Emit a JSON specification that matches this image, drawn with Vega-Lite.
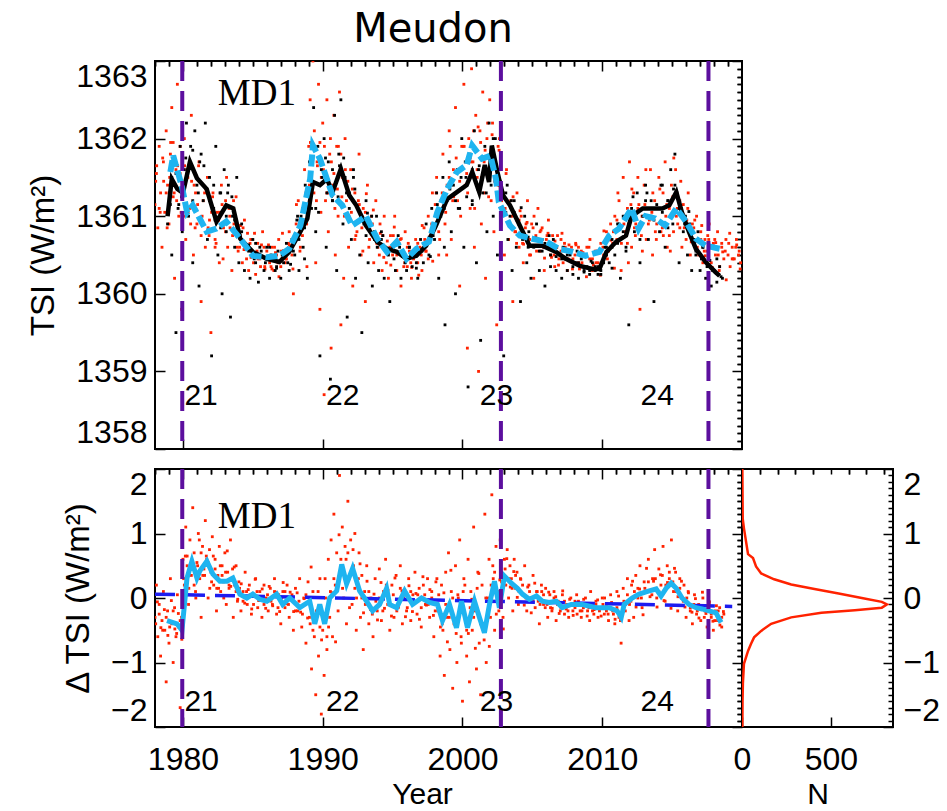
{
"$schema":"https://vega.github.io/schema/vega-lite/v6.json",
"autosize":{"type":"none"},
"padding":{"left":155,"top":61,"right":792,"bottom":750},
"background":"white",
"config":{
 "view":{"stroke":"black","strokeWidth":2},
 "axis":{"labelFont":"Liberation Sans","labelFontSize":32,"labelColor":"black","titleFont":"Liberation Sans","titleFontSize":33,"titleFontWeight":"normal","titleColor":"black","tickColor":"black","tickWidth":1.5,"domain":false,"grid":false},
 "text":{"font":"Liberation Sans","fontSize":30,"color":"black"}
},
"datasets":{
"tsiRed":[{"t":1978.0,"v":1361.15},{"t":1978.1,"v":1361.55},{"t":1978.2,"v":1360.85},{"t":1978.3,"v":1361.9},{"t":1978.4,"v":1361.3},{"t":1978.5,"v":1360.6},{"t":1978.6,"v":1361.7},{"t":1978.7,"v":1361.05},{"t":1978.8,"v":1362.1},{"t":1978.9,"v":1361.4},{"t":1979.0,"v":1360.9},{"t":1979.1,"v":1361.8},{"t":1979.2,"v":1362.4},{"t":1979.3,"v":1361.25},{"t":1979.4,"v":1360.2},{"t":1979.5,"v":1361.6},{"t":1979.6,"v":1362.7},{"t":1979.7,"v":1361.0},{"t":1979.8,"v":1361.9},{"t":1979.9,"v":1359.8},{"t":1980.0,"v":1361.3},{"t":1980.1,"v":1362.0},{"t":1980.2,"v":1360.7},{"t":1980.35,"v":1361.5},{"t":1980.5,"v":1361.1},{"t":1980.6,"v":1362.3},{"t":1980.75,"v":1360.5},{"t":1980.9,"v":1361.3},{"t":1981.0,"v":1360.9},{"t":1981.15,"v":1361.7},{"t":1981.3,"v":1359.9},{"t":1981.45,"v":1361.2},{"t":1981.6,"v":1360.6},{"t":1981.75,"v":1361.5},{"t":1981.9,"v":1360.95},{"t":1982.0,"v":1359.5},{"t":1982.15,"v":1361.3},{"t":1982.3,"v":1360.7},{"t":1982.45,"v":1361.05},{"t":1982.6,"v":1360.4},{"t":1982.75,"v":1361.4},{"t":1982.9,"v":1360.85},{"t":1983.05,"v":1361.2},{"t":1983.2,"v":1360.6},{"t":1983.35,"v":1361.0},{"t":1983.5,"v":1360.3},{"t":1983.65,"v":1360.9},{"t":1983.8,"v":1361.25},{"t":1983.95,"v":1360.55},{"t":1984.1,"v":1360.75},{"t":1984.25,"v":1360.4},{"t":1984.4,"v":1360.95},{"t":1984.55,"v":1360.6},{"t":1984.7,"v":1360.3},{"t":1984.85,"v":1360.7},{"t":1985.0,"v":1360.5},{"t":1985.2,"v":1360.25},{"t":1985.35,"v":1360.65},{"t":1985.5,"v":1360.45},{"t":1985.7,"v":1360.8},{"t":1985.85,"v":1360.35},{"t":1986.0,"v":1360.55},{"t":1986.2,"v":1360.4},{"t":1986.35,"v":1360.6},{"t":1986.5,"v":1360.3},{"t":1986.7,"v":1360.5},{"t":1986.85,"v":1360.7},{"t":1987.0,"v":1360.35},{"t":1987.2,"v":1360.55},{"t":1987.4,"v":1360.45},{"t":1987.6,"v":1360.8},{"t":1987.75,"v":1360.6},{"t":1987.9,"v":1360.0},{"t":1988.1,"v":1360.9},{"t":1988.25,"v":1361.2},{"t":1988.4,"v":1360.6},{"t":1988.55,"v":1361.1},{"t":1988.7,"v":1361.6},{"t":1988.85,"v":1360.9},{"t":1989.0,"v":1361.9},{"t":1989.1,"v":1362.5},{"t":1989.2,"v":1361.3},{"t":1989.3,"v":1363.0},{"t":1989.4,"v":1362.1},{"t":1989.5,"v":1360.4},{"t":1989.6,"v":1361.7},{"t":1989.7,"v":1362.7},{"t":1989.8,"v":1359.8},{"t":1989.9,"v":1361.5},{"t":1990.0,"v":1362.2},{"t":1990.1,"v":1358.7},{"t":1990.2,"v":1361.2},{"t":1990.3,"v":1362.5},{"t":1990.4,"v":1360.8},{"t":1990.5,"v":1361.8},{"t":1990.6,"v":1359.3},{"t":1990.7,"v":1361.4},{"t":1990.8,"v":1362.3},{"t":1990.9,"v":1360.5},{"t":1991.0,"v":1361.9},{"t":1991.1,"v":1361.0},{"t":1991.2,"v":1362.6},{"t":1991.3,"v":1359.6},{"t":1991.4,"v":1361.5},{"t":1991.5,"v":1360.2},{"t":1991.6,"v":1362.0},{"t":1991.7,"v":1361.2},{"t":1991.85,"v":1360.6},{"t":1992.0,"v":1361.6},{"t":1992.15,"v":1360.1},{"t":1992.3,"v":1361.3},{"t":1992.45,"v":1360.8},{"t":1992.6,"v":1361.8},{"t":1992.75,"v":1360.5},{"t":1992.9,"v":1361.1},{"t":1993.05,"v":1359.9},{"t":1993.2,"v":1361.4},{"t":1993.35,"v":1360.7},{"t":1993.5,"v":1361.0},{"t":1993.65,"v":1360.4},{"t":1993.8,"v":1361.2},{"t":1993.95,"v":1360.6},{"t":1994.1,"v":1360.9},{"t":1994.25,"v":1360.3},{"t":1994.4,"v":1361.0},{"t":1994.55,"v":1360.55},{"t":1994.7,"v":1360.2},{"t":1994.85,"v":1360.75},{"t":1995.0,"v":1360.5},{"t":1995.15,"v":1361.0},{"t":1995.3,"v":1360.3},{"t":1995.45,"v":1360.65},{"t":1995.6,"v":1360.1},{"t":1995.75,"v":1360.5},{"t":1995.9,"v":1360.8},{"t":1996.05,"v":1360.35},{"t":1996.2,"v":1360.55},{"t":1996.35,"v":1360.2},{"t":1996.5,"v":1360.45},{"t":1996.65,"v":1360.7},{"t":1996.8,"v":1360.4},{"t":1996.95,"v":1360.6},{"t":1997.1,"v":1360.3},{"t":1997.25,"v":1360.85},{"t":1997.4,"v":1360.55},{"t":1997.55,"v":1361.0},{"t":1997.7,"v":1360.7},{"t":1997.85,"v":1361.3},{"t":1998.0,"v":1360.9},{"t":1998.15,"v":1361.5},{"t":1998.3,"v":1360.5},{"t":1998.45,"v":1361.2},{"t":1998.6,"v":1361.8},{"t":1998.75,"v":1360.9},{"t":1998.9,"v":1361.4},{"t":1999.05,"v":1362.1},{"t":1999.2,"v":1360.7},{"t":1999.35,"v":1361.6},{"t":1999.5,"v":1362.4},{"t":1999.65,"v":1361.2},{"t":1999.8,"v":1360.1},{"t":1999.95,"v":1361.9},{"t":2000.1,"v":1362.7},{"t":2000.2,"v":1361.4},{"t":2000.35,"v":1359.3},{"t":2000.45,"v":1362.0},{"t":2000.55,"v":1361.1},{"t":2000.65,"v":1362.9},{"t":2000.75,"v":1361.7},{"t":2000.85,"v":1360.6},{"t":2000.95,"v":1362.3},{"t":2001.05,"v":1361.5},{"t":2001.15,"v":1359.0},{"t":2001.25,"v":1362.1},{"t":2001.35,"v":1360.9},{"t":2001.45,"v":1362.6},{"t":2001.55,"v":1361.3},{"t":2001.65,"v":1360.2},{"t":2001.75,"v":1362.0},{"t":2001.85,"v":1361.6},{"t":2001.95,"v":1362.5},{"t":2002.05,"v":1361.2},{"t":2002.15,"v":1362.2},{"t":2002.25,"v":1360.8},{"t":2002.35,"v":1361.7},{"t":2002.45,"v":1359.6},{"t":2002.55,"v":1361.4},{"t":2002.65,"v":1362.0},{"t":2002.75,"v":1360.9},{"t":2002.9,"v":1361.3},{"t":2003.0,"v":1360.5},{"t":2003.15,"v":1361.6},{"t":2003.3,"v":1360.9},{"t":2003.45,"v":1361.2},{"t":2003.6,"v":1359.9},{"t":2003.75,"v":1360.8},{"t":2003.9,"v":1361.3},{"t":2004.05,"v":1360.6},{"t":2004.2,"v":1361.0},{"t":2004.35,"v":1360.4},{"t":2004.5,"v":1360.85},{"t":2004.65,"v":1361.2},{"t":2004.8,"v":1360.5},{"t":2004.95,"v":1360.9},{"t":2005.1,"v":1360.2},{"t":2005.25,"v":1360.75},{"t":2005.4,"v":1361.1},{"t":2005.55,"v":1360.55},{"t":2005.7,"v":1360.85},{"t":2005.85,"v":1360.3},{"t":2006.0,"v":1360.7},{"t":2006.15,"v":1360.95},{"t":2006.3,"v":1360.5},{"t":2006.45,"v":1360.75},{"t":2006.6,"v":1360.35},{"t":2006.75,"v":1360.6},{"t":2006.9,"v":1360.45},{"t":2007.05,"v":1360.7},{"t":2007.2,"v":1360.4},{"t":2007.35,"v":1360.6},{"t":2007.5,"v":1360.3},{"t":2007.7,"v":1360.55},{"t":2007.9,"v":1360.45},{"t":2008.1,"v":1360.65},{"t":2008.3,"v":1360.4},{"t":2008.5,"v":1360.55},{"t":2008.7,"v":1360.35},{"t":2008.9,"v":1360.6},{"t":2009.1,"v":1360.45},{"t":2009.3,"v":1360.3},{"t":2009.5,"v":1360.55},{"t":2009.7,"v":1360.4},{"t":2009.9,"v":1360.65},{"t":2010.1,"v":1360.5},{"t":2010.3,"v":1360.8},{"t":2010.45,"v":1360.55},{"t":2010.6,"v":1360.9},{"t":2010.75,"v":1360.65},{"t":2010.9,"v":1361.0},{"t":2011.05,"v":1360.7},{"t":2011.2,"v":1361.2},{"t":2011.35,"v":1360.3},{"t":2011.5,"v":1361.5},{"t":2011.65,"v":1360.8},{"t":2011.8,"v":1361.1},{"t":2011.95,"v":1361.7},{"t":2012.1,"v":1360.6},{"t":2012.25,"v":1361.3},{"t":2012.4,"v":1360.9},{"t":2012.55,"v":1361.5},{"t":2012.7,"v":1359.8},{"t":2012.85,"v":1361.0},{"t":2013.0,"v":1361.4},{"t":2013.15,"v":1360.7},{"t":2013.3,"v":1361.1},{"t":2013.45,"v":1361.6},{"t":2013.6,"v":1360.5},{"t":2013.75,"v":1361.2},{"t":2013.9,"v":1360.9},{"t":2014.05,"v":1361.5},{"t":2014.2,"v":1360.8},{"t":2014.35,"v":1361.3},{"t":2014.5,"v":1361.7},{"t":2014.65,"v":1360.6},{"t":2014.8,"v":1361.1},{"t":2014.95,"v":1361.4},{"t":2015.1,"v":1360.8},{"t":2015.25,"v":1361.6},{"t":2015.4,"v":1360.9},{"t":2015.55,"v":1361.2},{"t":2015.7,"v":1360.6},{"t":2015.85,"v":1361.0},{"t":2016.0,"v":1360.7},{"t":2016.15,"v":1361.3},{"t":2016.3,"v":1360.5},{"t":2016.45,"v":1360.9},{"t":2016.6,"v":1360.65},{"t":2016.75,"v":1361.0},{"t":2016.9,"v":1360.5},{"t":2017.05,"v":1360.8},{"t":2017.2,"v":1360.4},{"t":2017.35,"v":1360.7},{"t":2017.5,"v":1360.55},{"t":2017.65,"v":1360.9},{"t":2017.8,"v":1360.4},{"t":2017.95,"v":1360.65},{"t":2018.1,"v":1360.5},{"t":2018.25,"v":1360.8},{"t":2018.4,"v":1360.35},{"t":2018.55,"v":1360.6},{"t":2018.7,"v":1360.45},{"t":2018.85,"v":1360.7},{"t":2019.0,"v":1360.5},{"t":2019.15,"v":1360.35},{"t":2019.3,"v":1360.6},{"t":2019.45,"v":1360.45},{"t":2019.6,"v":1360.7},{"t":2019.75,"v":1360.5},{"t":2019.9,"v":1360.4},
{"t":1978.05,"v":1361.45},{"t":1978.3,"v":1361.1},{"t":1978.55,"v":1361.75},{"t":1978.8,"v":1361.3},{"t":1979.05,"v":1361.5},{"t":1979.3,"v":1361.95},{"t":1979.55,"v":1361.2},{"t":1979.8,"v":1361.55},{"t":1980.05,"v":1361.0},{"t":1980.3,"v":1361.6},{"t":1980.55,"v":1360.9},{"t":1980.8,"v":1361.4},{"t":1981.05,"v":1361.15},{"t":1981.3,"v":1360.75},{"t":1981.55,"v":1361.3},{"t":1981.8,"v":1360.85},{"t":1982.05,"v":1361.05},{"t":1982.3,"v":1360.6},{"t":1982.55,"v":1360.95},{"t":1982.8,"v":1361.15},{"t":1983.05,"v":1360.8},{"t":1983.3,"v":1361.1},{"t":1983.55,"v":1360.75},{"t":1983.8,"v":1360.95},{"t":1984.05,"v":1360.6},{"t":1984.3,"v":1360.85},{"t":1984.55,"v":1360.45},{"t":1984.8,"v":1360.65},{"t":1985.05,"v":1360.4},{"t":1985.3,"v":1360.55},{"t":1985.55,"v":1360.35},{"t":1985.8,"v":1360.6},{"t":1986.05,"v":1360.45},{"t":1986.3,"v":1360.35},{"t":1986.55,"v":1360.6},{"t":1986.8,"v":1360.4},{"t":1987.05,"v":1360.55},{"t":1987.3,"v":1360.4},{"t":1987.55,"v":1360.65},{"t":1987.8,"v":1360.5},{"t":1988.05,"v":1360.7},{"t":1988.3,"v":1360.95},{"t":1988.55,"v":1360.75},{"t":1988.8,"v":1361.3},{"t":1989.05,"v":1361.4},{"t":1989.3,"v":1361.75},{"t":1989.55,"v":1361.2},{"t":1989.8,"v":1361.95},{"t":1990.05,"v":1361.6},{"t":1990.3,"v":1361.3},{"t":1990.55,"v":1362.0},{"t":1990.8,"v":1361.55},{"t":1991.05,"v":1361.35},{"t":1991.3,"v":1361.8},{"t":1991.55,"v":1361.0},{"t":1991.8,"v":1361.45},{"t":1992.05,"v":1361.05},{"t":1992.3,"v":1360.7},{"t":1992.55,"v":1361.2},{"t":1992.8,"v":1360.85},{"t":1993.05,"v":1361.05},{"t":1993.3,"v":1360.6},{"t":1993.55,"v":1360.9},{"t":1993.8,"v":1360.75},{"t":1994.05,"v":1360.5},{"t":1994.3,"v":1360.75},{"t":1994.55,"v":1360.4},{"t":1994.8,"v":1360.6},{"t":1995.05,"v":1360.75},{"t":1995.3,"v":1360.5},{"t":1995.55,"v":1360.7},{"t":1995.8,"v":1360.35},{"t":1996.05,"v":1360.6},{"t":1996.3,"v":1360.4},{"t":1996.55,"v":1360.55},{"t":1996.8,"v":1360.65},{"t":1997.05,"v":1360.5},{"t":1997.3,"v":1360.7},{"t":1997.55,"v":1360.45},{"t":1997.8,"v":1360.9},{"t":1998.05,"v":1361.15},{"t":1998.3,"v":1360.8},{"t":1998.55,"v":1361.3},{"t":1998.8,"v":1361.05},{"t":1999.05,"v":1361.5},{"t":1999.3,"v":1361.2},{"t":1999.55,"v":1361.75},{"t":1999.8,"v":1361.45},{"t":2000.05,"v":1361.9},{"t":2000.3,"v":1361.55},{"t":2000.55,"v":1361.75},{"t":2000.8,"v":1362.1},{"t":2001.05,"v":1361.6},{"t":2001.3,"v":1361.95},{"t":2001.55,"v":1361.7},{"t":2001.8,"v":1362.2},{"t":2002.05,"v":1361.85},{"t":2002.3,"v":1361.45},{"t":2002.55,"v":1361.9},{"t":2002.8,"v":1361.2},{"t":2003.05,"v":1361.1},{"t":2003.3,"v":1360.7},{"t":2003.55,"v":1361.0},{"t":2003.8,"v":1360.8},{"t":2004.05,"v":1360.95},{"t":2004.3,"v":1360.65},{"t":2004.55,"v":1360.9},{"t":2004.8,"v":1360.7},{"t":2005.05,"v":1360.85},{"t":2005.3,"v":1360.55},{"t":2005.55,"v":1360.8},{"t":2005.8,"v":1360.6},{"t":2006.05,"v":1360.75},{"t":2006.3,"v":1360.6},{"t":2006.55,"v":1360.5},{"t":2006.8,"v":1360.75},{"t":2007.05,"v":1360.55},{"t":2007.3,"v":1360.65},{"t":2007.55,"v":1360.45},{"t":2007.8,"v":1360.6},{"t":2008.05,"v":1360.5},{"t":2008.3,"v":1360.6},{"t":2008.55,"v":1360.4},{"t":2008.8,"v":1360.5},{"t":2009.05,"v":1360.6},{"t":2009.3,"v":1360.45},{"t":2009.55,"v":1360.4},{"t":2009.8,"v":1360.55},{"t":2010.05,"v":1360.6},{"t":2010.3,"v":1360.5},{"t":2010.55,"v":1360.7},{"t":2010.8,"v":1360.8},{"t":2011.05,"v":1360.95},{"t":2011.3,"v":1360.7},{"t":2011.55,"v":1360.9},{"t":2011.8,"v":1360.65},{"t":2012.05,"v":1361.15},{"t":2012.3,"v":1360.85},{"t":2012.55,"v":1361.1},{"t":2012.8,"v":1360.75},{"t":2013.05,"v":1361.15},{"t":2013.3,"v":1360.9},{"t":2013.55,"v":1361.05},{"t":2013.8,"v":1360.8},{"t":2014.05,"v":1361.1},{"t":2014.3,"v":1360.85},{"t":2014.55,"v":1361.0},{"t":2014.8,"v":1360.75},{"t":2015.05,"v":1361.25},{"t":2015.3,"v":1361.0},{"t":2015.55,"v":1360.85},{"t":2015.8,"v":1361.15},{"t":2016.05,"v":1360.95},{"t":2016.3,"v":1360.75},{"t":2016.55,"v":1360.85},{"t":2016.8,"v":1360.6},{"t":2017.05,"v":1360.7},{"t":2017.3,"v":1360.55},{"t":2017.55,"v":1360.75},{"t":2017.8,"v":1360.6},{"t":2018.05,"v":1360.7},{"t":2018.3,"v":1360.5},{"t":2018.55,"v":1360.65},{"t":2018.8,"v":1360.55},{"t":2019.05,"v":1360.65},{"t":2019.3,"v":1360.45},{"t":2019.55,"v":1360.6},{"t":2019.8,"v":1360.55},
{"t":1978.12,"v":1361.65},{"t":1978.37,"v":1361.05},{"t":1978.62,"v":1361.45},{"t":1978.87,"v":1360.85},{"t":1979.12,"v":1361.95},{"t":1979.37,"v":1361.3},{"t":1979.62,"v":1361.65},{"t":1979.87,"v":1361.05},{"t":1980.12,"v":1361.65},{"t":1980.37,"v":1361.05},{"t":1980.62,"v":1361.45},{"t":1980.87,"v":1360.85},{"t":1981.12,"v":1361.65},{"t":1981.37,"v":1361.0},{"t":1981.62,"v":1361.35},{"t":1981.87,"v":1360.75},{"t":1982.12,"v":1361.25},{"t":1982.37,"v":1360.65},{"t":1982.62,"v":1361.05},{"t":1982.87,"v":1360.45},{"t":1983.12,"v":1361.5},{"t":1983.37,"v":1360.85},{"t":1983.62,"v":1361.2},{"t":1983.87,"v":1360.6},{"t":1984.12,"v":1360.88},{"t":1984.37,"v":1360.57},{"t":1984.62,"v":1360.78},{"t":1984.87,"v":1360.47},{"t":1985.12,"v":1360.78},{"t":1985.37,"v":1360.45},{"t":1985.62,"v":1360.63},{"t":1985.87,"v":1360.32},{"t":1986.12,"v":1360.63},{"t":1986.37,"v":1360.32},{"t":1986.62,"v":1360.53},{"t":1986.87,"v":1360.22},{"t":1987.12,"v":1360.78},{"t":1987.37,"v":1360.45},{"t":1987.62,"v":1360.63},{"t":1987.87,"v":1360.32},{"t":1988.12,"v":1361.15},{"t":1988.37,"v":1360.55},{"t":1988.62,"v":1360.95},{"t":1988.87,"v":1360.35},{"t":1989.12,"v":1361.95},{"t":1989.37,"v":1361.3},{"t":1989.62,"v":1361.65},{"t":1989.87,"v":1361.05},{"t":1990.12,"v":1361.9},{"t":1990.37,"v":1361.3},{"t":1990.62,"v":1361.7},{"t":1990.87,"v":1361.1},{"t":1991.12,"v":1361.9},{"t":1991.37,"v":1361.25},{"t":1991.62,"v":1361.6},{"t":1991.87,"v":1361.0},{"t":1992.12,"v":1361.35},{"t":1992.37,"v":1360.75},{"t":1992.62,"v":1361.15},{"t":1992.87,"v":1360.55},{"t":1993.12,"v":1361.29},{"t":1993.37,"v":1360.83},{"t":1993.62,"v":1361.08},{"t":1993.87,"v":1360.65},{"t":1994.12,"v":1360.78},{"t":1994.37,"v":1360.47},{"t":1994.62,"v":1360.68},{"t":1994.87,"v":1360.37},{"t":1995.12,"v":1360.86},{"t":1995.37,"v":1360.53},{"t":1995.62,"v":1360.71},{"t":1995.87,"v":1360.4},{"t":1996.12,"v":1360.65},{"t":1996.37,"v":1360.34},{"t":1996.62,"v":1360.55},{"t":1996.87,"v":1360.24},{"t":1997.12,"v":1360.88},{"t":1997.37,"v":1360.55},{"t":1997.62,"v":1360.73},{"t":1997.87,"v":1360.42},{"t":1998.12,"v":1361.3},{"t":1998.37,"v":1360.7},{"t":1998.62,"v":1361.1},{"t":1998.87,"v":1360.5},{"t":1999.12,"v":1361.9},{"t":1999.37,"v":1361.25},{"t":1999.62,"v":1361.6},{"t":1999.87,"v":1361.0},{"t":2000.12,"v":1361.9},{"t":2000.37,"v":1361.3},{"t":2000.62,"v":1361.7},{"t":2000.87,"v":1361.1},{"t":2001.12,"v":1362.15},{"t":2001.37,"v":1361.5},{"t":2001.62,"v":1361.85},{"t":2001.87,"v":1361.25},{"t":2002.12,"v":1362.05},{"t":2002.37,"v":1361.45},{"t":2002.62,"v":1361.85},{"t":2002.87,"v":1361.25},{"t":2003.12,"v":1361.55},{"t":2003.37,"v":1360.9},{"t":2003.62,"v":1361.25},{"t":2003.87,"v":1360.65},{"t":2004.12,"v":1361.07},{"t":2004.37,"v":1360.64},{"t":2004.62,"v":1360.92},{"t":2004.87,"v":1360.5},{"t":2005.12,"v":1361.0},{"t":2005.37,"v":1360.61},{"t":2005.62,"v":1360.82},{"t":2005.87,"v":1360.46},{"t":2006.12,"v":1360.78},{"t":2006.37,"v":1360.47},{"t":2006.62,"v":1360.68},{"t":2006.87,"v":1360.37},{"t":2007.12,"v":1360.78},{"t":2007.37,"v":1360.45},{"t":2007.62,"v":1360.63},{"t":2007.87,"v":1360.32},{"t":2008.12,"v":1360.63},{"t":2008.37,"v":1360.32},{"t":2008.62,"v":1360.53},{"t":2008.87,"v":1360.22},{"t":2009.12,"v":1360.7},{"t":2009.37,"v":1360.37},{"t":2009.62,"v":1360.55},{"t":2009.87,"v":1360.24},{"t":2010.12,"v":1360.81},{"t":2010.37,"v":1360.45},{"t":2010.62,"v":1360.69},{"t":2010.87,"v":1360.33},{"t":2011.12,"v":1361.3},{"t":2011.37,"v":1360.65},{"t":2011.62,"v":1361.0},{"t":2011.87,"v":1360.4},{"t":2012.12,"v":1361.35},{"t":2012.37,"v":1360.75},{"t":2012.62,"v":1361.15},{"t":2012.87,"v":1360.55},{"t":2013.12,"v":1361.6},{"t":2013.37,"v":1360.95},{"t":2013.62,"v":1361.3},{"t":2013.87,"v":1360.7},{"t":2014.12,"v":1361.35},{"t":2014.37,"v":1360.75},{"t":2014.62,"v":1361.15},{"t":2014.87,"v":1360.55},{"t":2015.12,"v":1361.75},{"t":2015.37,"v":1361.1},{"t":2015.62,"v":1361.45},{"t":2015.87,"v":1360.85},{"t":2016.12,"v":1361.1},{"t":2016.37,"v":1360.67},{"t":2016.62,"v":1360.95},{"t":2016.87,"v":1360.53},{"t":2017.12,"v":1360.88},{"t":2017.37,"v":1360.49},{"t":2017.62,"v":1360.7},{"t":2017.87,"v":1360.34},{"t":2018.12,"v":1360.66},{"t":2018.37,"v":1360.3},{"t":2018.62,"v":1360.54},{"t":2018.87,"v":1360.18},{"t":2019.12,"v":1360.78},{"t":2019.37,"v":1360.45},{"t":2019.62,"v":1360.63},{"t":2019.87,"v":1360.32}],
"tsiBlack":[{"t":1978.9,"v":1360.9},{"t":1979.05,"v":1361.3},{"t":1979.2,"v":1360.5},{"t":1979.35,"v":1361.7},{"t":1979.5,"v":1359.5},{"t":1979.65,"v":1361.1},{"t":1979.8,"v":1361.9},{"t":1979.95,"v":1360.8},{"t":1980.1,"v":1361.6},{"t":1980.25,"v":1362.2},{"t":1980.4,"v":1361.0},{"t":1980.55,"v":1361.9},{"t":1980.7,"v":1360.4},{"t":1980.85,"v":1362.1},{"t":1981.0,"v":1361.4},{"t":1981.15,"v":1360.1},{"t":1981.3,"v":1361.8},{"t":1981.45,"v":1361.2},{"t":1981.6,"v":1362.2},{"t":1981.75,"v":1360.7},{"t":1981.9,"v":1361.5},{"t":1982.05,"v":1359.2},{"t":1982.2,"v":1361.1},{"t":1982.35,"v":1361.9},{"t":1982.5,"v":1360.5},{"t":1982.65,"v":1361.3},{"t":1982.8,"v":1360.0},{"t":1982.95,"v":1361.6},{"t":1983.1,"v":1360.8},{"t":1983.25,"v":1361.4},{"t":1983.4,"v":1359.7},{"t":1983.55,"v":1361.0},{"t":1983.7,"v":1360.6},{"t":1983.85,"v":1361.5},{"t":1984.0,"v":1360.4},{"t":1984.2,"v":1360.8},{"t":1984.4,"v":1360.3},{"t":1984.6,"v":1360.6},{"t":1984.8,"v":1360.2},{"t":1985.0,"v":1360.7},{"t":1985.2,"v":1360.4},{"t":1985.4,"v":1360.15},{"t":1985.6,"v":1360.55},{"t":1985.8,"v":1360.3},{"t":1986.0,"v":1360.6},{"t":1986.2,"v":1360.2},{"t":1986.4,"v":1360.45},{"t":1986.6,"v":1360.3},{"t":1986.8,"v":1360.55},{"t":1987.0,"v":1360.2},{"t":1987.2,"v":1360.4},{"t":1987.4,"v":1360.65},{"t":1987.6,"v":1360.3},{"t":1987.8,"v":1360.7},{"t":1988.0,"v":1360.5},{"t":1988.15,"v":1360.95},{"t":1988.3,"v":1360.3},{"t":1988.45,"v":1361.0},{"t":1988.6,"v":1360.6},{"t":1988.75,"v":1361.4},{"t":1988.9,"v":1360.2},{"t":1989.05,"v":1361.7},{"t":1989.2,"v":1361.1},{"t":1989.35,"v":1362.4},{"t":1989.5,"v":1360.8},{"t":1989.65,"v":1361.9},{"t":1989.8,"v":1359.2},{"t":1989.95,"v":1361.5},{"t":1990.1,"v":1362.0},{"t":1990.25,"v":1360.6},{"t":1990.4,"v":1361.7},{"t":1990.55,"v":1358.9},{"t":1990.7,"v":1361.2},{"t":1990.85,"v":1362.3},{"t":1991.0,"v":1360.3},{"t":1991.15,"v":1361.8},{"t":1991.3,"v":1362.5},{"t":1991.45,"v":1360.9},{"t":1991.6,"v":1361.5},{"t":1991.75,"v":1359.7},{"t":1991.9,"v":1361.3},{"t":1992.05,"v":1360.7},{"t":1992.2,"v":1361.6},{"t":1992.35,"v":1360.2},{"t":1992.5,"v":1361.1},{"t":1992.65,"v":1360.5},{"t":1992.8,"v":1359.5},{"t":1992.95,"v":1360.9},{"t":1993.1,"v":1361.2},{"t":1993.25,"v":1360.4},{"t":1993.4,"v":1360.8},{"t":1993.55,"v":1360.1},{"t":1993.7,"v":1360.7},{"t":1993.85,"v":1361.0},{"t":1994.0,"v":1360.3},{"t":1994.2,"v":1360.7},{"t":1994.4,"v":1360.2},{"t":1994.6,"v":1360.55},{"t":1994.8,"v":1359.9},{"t":1995.0,"v":1360.6},{"t":1995.2,"v":1360.3},{"t":1995.4,"v":1360.75},{"t":1995.6,"v":1360.2},{"t":1995.8,"v":1360.5},{"t":1996.0,"v":1360.3},{"t":1996.2,"v":1360.6},{"t":1996.4,"v":1360.35},{"t":1996.6,"v":1360.5},{"t":1996.8,"v":1360.2},{"t":1997.0,"v":1360.7},{"t":1997.2,"v":1360.4},{"t":1997.4,"v":1360.9},{"t":1997.6,"v":1360.5},{"t":1997.8,"v":1361.1},{"t":1998.0,"v":1360.7},{"t":1998.15,"v":1361.3},{"t":1998.3,"v":1360.2},{"t":1998.45,"v":1361.0},{"t":1998.6,"v":1361.5},{"t":1998.75,"v":1359.6},{"t":1998.9,"v":1361.2},{"t":1999.05,"v":1361.7},{"t":1999.2,"v":1360.8},{"t":1999.35,"v":1361.4},{"t":1999.5,"v":1360.0},{"t":1999.65,"v":1361.6},{"t":1999.8,"v":1361.1},{"t":1999.95,"v":1362.0},{"t":2000.1,"v":1360.6},{"t":2000.25,"v":1361.5},{"t":2000.4,"v":1358.8},{"t":2000.55,"v":1361.8},{"t":2000.7,"v":1361.2},{"t":2000.85,"v":1362.1},{"t":2001.0,"v":1360.4},{"t":2001.15,"v":1361.6},{"t":2001.3,"v":1359.4},{"t":2001.45,"v":1361.3},{"t":2001.6,"v":1361.9},{"t":2001.75,"v":1360.8},{"t":2001.9,"v":1362.2},{"t":2002.05,"v":1361.4},{"t":2002.2,"v":1361.0},{"t":2002.35,"v":1362.0},{"t":2002.5,"v":1360.5},{"t":2002.65,"v":1361.6},{"t":2002.8,"v":1361.1},{"t":2002.95,"v":1359.2},{"t":2003.1,"v":1361.3},{"t":2003.25,"v":1360.7},{"t":2003.4,"v":1361.0},{"t":2003.55,"v":1360.3},{"t":2003.7,"v":1361.2},{"t":2003.85,"v":1360.6},{"t":2004.0,"v":1360.9},{"t":2004.15,"v":1359.9},{"t":2004.3,"v":1360.7},{"t":2004.45,"v":1361.0},{"t":2004.6,"v":1360.4},{"t":2004.75,"v":1360.8},{"t":2004.9,"v":1360.2},{"t":2005.1,"v":1360.6},{"t":2005.3,"v":1360.9},{"t":2005.5,"v":1360.3},{"t":2005.7,"v":1360.7},{"t":2005.9,"v":1360.1},{"t":2006.1,"v":1360.6},{"t":2006.3,"v":1360.35},{"t":2006.5,"v":1360.7},{"t":2006.7,"v":1360.3},{"t":2006.9,"v":1360.5},{"t":2007.1,"v":1360.2},{"t":2007.3,"v":1360.45},{"t":2007.5,"v":1360.3},{"t":2007.7,"v":1360.5},{"t":2007.9,"v":1360.25},{"t":2008.1,"v":1360.4},{"t":2008.3,"v":1360.2},{"t":2008.5,"v":1360.45},{"t":2008.7,"v":1360.3},{"t":2008.9,"v":1360.35},{"t":2009.1,"v":1360.25},{"t":2009.3,"v":1360.4},{"t":2009.5,"v":1360.3},{"t":2009.7,"v":1360.35},{"t":2009.9,"v":1360.25},{"t":2010.1,"v":1360.4},{"t":2010.3,"v":1360.6},{"t":2010.5,"v":1360.4},{"t":2010.7,"v":1360.7},{"t":2010.9,"v":1360.5},{"t":2011.1,"v":1360.9},{"t":2011.3,"v":1360.2},{"t":2011.5,"v":1361.0},{"t":2011.7,"v":1360.6},{"t":2011.9,"v":1359.6},{"t":2012.1,"v":1361.1},{"t":2012.3,"v":1360.8},{"t":2012.5,"v":1361.3},{"t":2012.7,"v":1360.4},{"t":2012.9,"v":1361.0},{"t":2013.1,"v":1361.4},{"t":2013.3,"v":1360.7},{"t":2013.5,"v":1361.2},{"t":2013.7,"v":1359.9},{"t":2013.9,"v":1361.1},{"t":2014.1,"v":1360.8},{"t":2014.3,"v":1361.4},{"t":2014.5,"v":1360.6},{"t":2014.7,"v":1361.2},{"t":2014.9,"v":1361.6},{"t":2015.05,"v":1360.9},{"t":2015.2,"v":1361.8},{"t":2015.35,"v":1361.3},{"t":2015.5,"v":1360.4},{"t":2015.65,"v":1361.1},{"t":2015.8,"v":1360.8},{"t":2015.95,"v":1361.0},{"t":2016.1,"v":1360.5},{"t":2016.25,"v":1360.9},{"t":2016.4,"v":1360.3},{"t":2016.55,"v":1360.7},{"t":2016.7,"v":1360.5},{"t":2016.85,"v":1360.8},{"t":2017.0,"v":1360.3},{"t":2017.2,"v":1360.6},{"t":2017.4,"v":1360.2},{"t":2017.6,"v":1360.45},{"t":2017.8,"v":1360.1},{"t":2018.0,"v":1360.3},{"t":2018.2,"v":1360.15},{"t":2018.4,"v":1360.35},{"t":2018.6,"v":1360.2},
{"t":1979.1,"v":1361.15},{"t":1979.5,"v":1361.55},{"t":1979.9,"v":1361.25},{"t":1980.3,"v":1361.55},{"t":1980.7,"v":1361.85},{"t":1981.1,"v":1361.3},{"t":1981.5,"v":1361.65},{"t":1981.9,"v":1361.2},{"t":1982.3,"v":1360.95},{"t":1982.7,"v":1361.3},{"t":1983.1,"v":1361.0},{"t":1983.5,"v":1361.25},{"t":1983.9,"v":1360.85},{"t":1984.3,"v":1360.65},{"t":1984.7,"v":1360.55},{"t":1985.1,"v":1360.45},{"t":1985.5,"v":1360.6},{"t":1985.9,"v":1360.4},{"t":1986.3,"v":1360.5},{"t":1986.7,"v":1360.35},{"t":1987.1,"v":1360.5},{"t":1987.5,"v":1360.4},{"t":1987.9,"v":1360.55},{"t":1988.3,"v":1360.7},{"t":1988.7,"v":1360.85},{"t":1989.1,"v":1361.3},{"t":1989.5,"v":1361.1},{"t":1989.9,"v":1361.6},{"t":1990.3,"v":1361.3},{"t":1990.7,"v":1361.6},{"t":1991.1,"v":1361.25},{"t":1991.5,"v":1361.75},{"t":1991.9,"v":1361.1},{"t":1992.3,"v":1361.35},{"t":1992.7,"v":1360.95},{"t":1993.1,"v":1360.75},{"t":1993.5,"v":1361.0},{"t":1993.9,"v":1360.6},{"t":1994.3,"v":1360.75},{"t":1994.7,"v":1360.5},{"t":1995.1,"v":1360.45},{"t":1995.5,"v":1360.6},{"t":1995.9,"v":1360.4},{"t":1996.3,"v":1360.5},{"t":1996.7,"v":1360.4},{"t":1997.1,"v":1360.55},{"t":1997.5,"v":1360.65},{"t":1997.9,"v":1360.75},{"t":1998.3,"v":1361.0},{"t":1998.7,"v":1361.1},{"t":1999.1,"v":1361.35},{"t":1999.5,"v":1361.2},{"t":1999.9,"v":1361.5},{"t":2000.3,"v":1361.25},{"t":2000.7,"v":1361.6},{"t":2001.1,"v":1361.35},{"t":2001.5,"v":1361.55},{"t":2001.9,"v":1361.75},{"t":2002.3,"v":1361.5},{"t":2002.7,"v":1361.35},{"t":2003.1,"v":1361.05},{"t":2003.5,"v":1361.2},{"t":2003.9,"v":1360.95},{"t":2004.3,"v":1360.8},{"t":2004.7,"v":1360.6},{"t":2005.1,"v":1360.7},{"t":2005.5,"v":1360.55},{"t":2005.9,"v":1360.65},{"t":2006.3,"v":1360.5},{"t":2006.7,"v":1360.6},{"t":2007.1,"v":1360.45},{"t":2007.5,"v":1360.5},{"t":2007.9,"v":1360.35},{"t":2008.3,"v":1360.4},{"t":2008.7,"v":1360.35},{"t":2009.1,"v":1360.3},{"t":2009.5,"v":1360.35},{"t":2009.9,"v":1360.3},{"t":2010.3,"v":1360.5},{"t":2010.7,"v":1360.6},{"t":2011.1,"v":1360.65},{"t":2011.5,"v":1360.8},{"t":2011.9,"v":1360.9},{"t":2012.3,"v":1361.05},{"t":2012.7,"v":1360.9},{"t":2013.1,"v":1361.2},{"t":2013.5,"v":1361.0},{"t":2013.9,"v":1361.15},{"t":2014.3,"v":1361.05},{"t":2014.7,"v":1361.2},{"t":2015.1,"v":1361.35},{"t":2015.5,"v":1361.1},{"t":2015.9,"v":1360.9},{"t":2016.3,"v":1360.75},{"t":2016.7,"v":1360.55},{"t":2017.1,"v":1360.45},{"t":2017.5,"v":1360.35},{"t":2017.9,"v":1360.3},{"t":2018.3,"v":1360.25},
{"t":1979.2,"v":1361.5},{"t":1979.7,"v":1361.15},{"t":1980.2,"v":1361.75},{"t":1980.7,"v":1361.2},{"t":1981.2,"v":1361.7},{"t":1981.7,"v":1361.35},{"t":1982.2,"v":1361.4},{"t":1982.7,"v":1360.85},{"t":1983.2,"v":1361.3},{"t":1983.7,"v":1360.95},{"t":1984.2,"v":1360.9},{"t":1984.7,"v":1360.63},{"t":1985.2,"v":1360.65},{"t":1985.7,"v":1360.48},{"t":1986.2,"v":1360.6},{"t":1986.7,"v":1360.33},{"t":1987.2,"v":1360.55},{"t":1987.7,"v":1360.38},{"t":1988.2,"v":1361.0},{"t":1988.7,"v":1360.45},{"t":1989.2,"v":1361.4},{"t":1989.7,"v":1361.05},{"t":1990.2,"v":1361.75},{"t":1990.7,"v":1361.2},{"t":1991.2,"v":1361.65},{"t":1991.7,"v":1361.3},{"t":1992.2,"v":1361.5},{"t":1992.7,"v":1360.95},{"t":1993.2,"v":1361.04},{"t":1993.7,"v":1360.8},{"t":1994.2,"v":1360.8},{"t":1994.7,"v":1360.53},{"t":1995.2,"v":1360.65},{"t":1995.7,"v":1360.48},{"t":1996.2,"v":1360.6},{"t":1996.7,"v":1360.33},{"t":1997.2,"v":1360.65},{"t":1997.7,"v":1360.48},{"t":1998.2,"v":1361.15},{"t":1998.7,"v":1360.6},{"t":1999.2,"v":1361.45},{"t":1999.7,"v":1361.1},{"t":2000.2,"v":1361.7},{"t":2000.7,"v":1361.15},{"t":2001.2,"v":1361.65},{"t":2001.7,"v":1361.3},{"t":2002.2,"v":1362.0},{"t":2002.7,"v":1361.45},{"t":2003.2,"v":1361.4},{"t":2003.7,"v":1361.05},{"t":2004.2,"v":1361.11},{"t":2004.7,"v":1360.73},{"t":2005.2,"v":1360.72},{"t":2005.7,"v":1360.55},{"t":2006.2,"v":1360.75},{"t":2006.7,"v":1360.48},{"t":2007.2,"v":1360.6},{"t":2007.7,"v":1360.43},{"t":2008.2,"v":1360.55},{"t":2008.7,"v":1360.28},{"t":2009.2,"v":1360.42},{"t":2009.7,"v":1360.25},{"t":2010.2,"v":1360.6},{"t":2010.7,"v":1360.33},{"t":2011.2,"v":1360.9},{"t":2011.7,"v":1360.55},{"t":2012.2,"v":1361.25},{"t":2012.7,"v":1360.7},{"t":2013.2,"v":1361.3},{"t":2013.7,"v":1360.95},{"t":2014.2,"v":1361.4},{"t":2014.7,"v":1360.85},{"t":2015.2,"v":1361.4},{"t":2015.7,"v":1361.05},{"t":2016.2,"v":1361.06},{"t":2016.7,"v":1360.68},{"t":2017.2,"v":1360.6},{"t":2017.7,"v":1360.43},{"t":2018.2,"v":1360.45},{"t":2018.5,"v":1360.22}],
"blackLine":[{"t":1978.9,"v":1361.0},{"t":1979.2,"v":1361.48},{"t":1979.6,"v":1361.35},{"t":1980.0,"v":1361.3},{"t":1980.5,"v":1361.7},{"t":1981.0,"v":1361.49},{"t":1981.7,"v":1361.35},{"t":1982.4,"v":1360.93},{"t":1983.1,"v":1361.14},{"t":1983.6,"v":1361.1},{"t":1984.1,"v":1360.71},{"t":1985.0,"v":1360.54},{"t":1986.0,"v":1360.45},{"t":1986.9,"v":1360.41},{"t":1987.6,"v":1360.54},{"t":1988.4,"v":1360.8},{"t":1988.9,"v":1360.97},{"t":1989.3,"v":1361.44},{"t":1989.8,"v":1361.4},{"t":1990.3,"v":1361.48},{"t":1990.7,"v":1361.31},{"t":1991.3,"v":1361.61},{"t":1991.9,"v":1361.27},{"t":1992.4,"v":1361.14},{"t":1993.1,"v":1360.88},{"t":1993.9,"v":1360.67},{"t":1994.6,"v":1360.58},{"t":1995.3,"v":1360.54},{"t":1996.0,"v":1360.45},{"t":1996.7,"v":1360.49},{"t":1997.4,"v":1360.62},{"t":1998.1,"v":1360.88},{"t":1998.9,"v":1361.22},{"t":1999.6,"v":1361.31},{"t":2000.3,"v":1361.4},{"t":2000.7,"v":1361.57},{"t":2001.2,"v":1361.31},{"t":2001.6,"v":1361.66},{"t":2001.9,"v":1361.44},{"t":2002.1,"v":1361.91},{"t":2002.5,"v":1361.57},{"t":2002.9,"v":1361.27},{"t":2003.4,"v":1361.14},{"t":2004.1,"v":1360.88},{"t":2004.8,"v":1360.62},{"t":2005.7,"v":1360.62},{"t":2006.7,"v":1360.54},{"t":2007.4,"v":1360.45},{"t":2008.4,"v":1360.36},{"t":2009.3,"v":1360.32},{"t":2009.8,"v":1360.32},{"t":2010.3,"v":1360.54},{"t":2011.0,"v":1360.67},{"t":2011.7,"v":1360.75},{"t":2012.1,"v":1361.0},{"t":2012.9,"v":1361.1},{"t":2013.6,"v":1361.1},{"t":2014.3,"v":1361.1},{"t":2014.8,"v":1361.14},{"t":2015.3,"v":1361.31},{"t":2015.7,"v":1361.05},{"t":2016.2,"v":1360.8},{"t":2016.7,"v":1360.58},{"t":2017.4,"v":1360.41},{"t":2018.1,"v":1360.28},{"t":2018.4,"v":1360.23}],
"cyanTop":[{"t":1979.1,"v":1361.57},{"t":1979.3,"v":1361.78},{"t":1979.9,"v":1361.4},{"t":1980.3,"v":1361.05},{"t":1980.7,"v":1361.14},{"t":1981.2,"v":1360.97},{"t":1981.7,"v":1360.8},{"t":1982.4,"v":1360.84},{"t":1983.1,"v":1360.93},{"t":1984.1,"v":1360.71},{"t":1985.0,"v":1360.49},{"t":1986.0,"v":1360.47},{"t":1986.9,"v":1360.49},{"t":1987.6,"v":1360.58},{"t":1988.4,"v":1360.88},{"t":1989.1,"v":1361.48},{"t":1989.3,"v":1361.91},{"t":1989.8,"v":1361.74},{"t":1990.3,"v":1361.48},{"t":1990.7,"v":1361.27},{"t":1991.4,"v":1361.14},{"t":1992.1,"v":1360.88},{"t":1993.1,"v":1361.0},{"t":1993.9,"v":1360.71},{"t":1994.6,"v":1360.54},{"t":1995.3,"v":1360.67},{"t":1996.0,"v":1360.45},{"t":1996.7,"v":1360.58},{"t":1997.6,"v":1360.67},{"t":1998.2,"v":1361.05},{"t":1998.9,"v":1361.35},{"t":1999.6,"v":1361.57},{"t":2000.3,"v":1361.66},{"t":2000.7,"v":1361.91},{"t":2001.4,"v":1361.74},{"t":2002.0,"v":1361.78},{"t":2002.4,"v":1361.48},{"t":2002.6,"v":1361.18},{"t":2003.4,"v":1360.88},{"t":2004.1,"v":1360.75},{"t":2005.0,"v":1360.71},{"t":2006.0,"v":1360.67},{"t":2006.9,"v":1360.58},{"t":2007.9,"v":1360.54},{"t":2008.8,"v":1360.49},{"t":2009.8,"v":1360.54},{"t":2010.5,"v":1360.75},{"t":2011.2,"v":1360.84},{"t":2012.1,"v":1361.1},{"t":2012.6,"v":1360.84},{"t":2013.1,"v":1361.0},{"t":2013.8,"v":1360.97},{"t":2014.5,"v":1360.88},{"t":2015.3,"v":1361.1},{"t":2016.0,"v":1360.93},{"t":2016.7,"v":1360.71},{"t":2017.4,"v":1360.62},{"t":2018.4,"v":1360.58}],
"dRed":[{"t":1978.0,"v":-0.3},{"t":1978.1,"v":0.2},{"t":1978.2,"v":-0.6},{"t":1978.3,"v":-0.1},{"t":1978.4,"v":-0.9},{"t":1978.5,"v":-0.35},{"t":1978.6,"v":0.1},{"t":1978.7,"v":-0.5},{"t":1978.8,"v":-1.3},{"t":1978.9,"v":-0.2},{"t":1979.0,"v":-0.7},{"t":1979.1,"v":0.3},{"t":1979.2,"v":-0.4},{"t":1979.3,"v":-1.0},{"t":1979.4,"v":-0.15},{"t":1979.5,"v":-0.6},{"t":1979.6,"v":0.05},{"t":1979.7,"v":-0.45},{"t":1979.8,"v":-1.7},{"t":1979.9,"v":-0.3},{"t":1980.0,"v":0.6},{"t":1980.1,"v":0.2},{"t":1980.2,"v":1.1},{"t":1980.3,"v":0.5},{"t":1980.4,"v":-0.1},{"t":1980.5,"v":0.9},{"t":1980.6,"v":0.35},{"t":1980.7,"v":1.4},{"t":1980.8,"v":0.7},{"t":1980.9,"v":0.1},{"t":1981.0,"v":0.55},{"t":1981.1,"v":1.0},{"t":1981.2,"v":0.3},{"t":1981.3,"v":-0.3},{"t":1981.4,"v":0.8},{"t":1981.5,"v":0.45},{"t":1981.6,"v":1.2},{"t":1981.7,"v":0.6},{"t":1981.8,"v":0.0},{"t":1981.9,"v":0.75},{"t":1982.0,"v":0.4},{"t":1982.1,"v":0.95},{"t":1982.2,"v":0.2},{"t":1982.3,"v":0.6},{"t":1982.4,"v":-0.2},{"t":1982.5,"v":0.35},{"t":1982.6,"v":0.8},{"t":1982.7,"v":0.1},{"t":1982.8,"v":0.5},{"t":1982.9,"v":0.25},{"t":1983.0,"v":0.7},{"t":1983.1,"v":-0.1},{"t":1983.2,"v":0.4},{"t":1983.3,"v":0.15},{"t":1983.4,"v":0.9},{"t":1983.5,"v":0.3},{"t":1983.6,"v":-0.3},{"t":1983.7,"v":0.2},{"t":1983.8,"v":0.5},{"t":1983.9,"v":-0.05},{"t":1984.0,"v":0.25},{"t":1984.15,"v":-0.2},{"t":1984.3,"v":0.1},{"t":1984.45,"v":0.4},{"t":1984.6,"v":-0.1},{"t":1984.75,"v":0.2},{"t":1984.9,"v":-0.25},{"t":1985.05,"v":0.05},{"t":1985.2,"v":0.3},{"t":1985.35,"v":-0.15},{"t":1985.5,"v":0.1},{"t":1985.65,"v":-0.3},{"t":1985.8,"v":0.2},{"t":1985.95,"v":0.0},{"t":1986.1,"v":-0.2},{"t":1986.25,"v":0.15},{"t":1986.4,"v":-0.1},{"t":1986.55,"v":0.3},{"t":1986.7,"v":-0.25},{"t":1986.85,"v":0.05},{"t":1987.0,"v":-0.4},{"t":1987.15,"v":0.1},{"t":1987.3,"v":-0.15},{"t":1987.45,"v":0.2},{"t":1987.6,"v":-0.3},{"t":1987.75,"v":0.0},{"t":1987.9,"v":-0.5},{"t":1988.05,"v":0.15},{"t":1988.2,"v":-0.2},{"t":1988.35,"v":0.3},{"t":1988.5,"v":-0.45},{"t":1988.65,"v":0.0},{"t":1988.8,"v":-0.7},{"t":1988.95,"v":0.25},{"t":1989.1,"v":-0.4},{"t":1989.2,"v":-1.1},{"t":1989.3,"v":0.1},{"t":1989.4,"v":-0.6},{"t":1989.5,"v":-1.5},{"t":1989.6,"v":-0.2},{"t":1989.7,"v":-0.9},{"t":1989.8,"v":0.3},{"t":1989.9,"v":-1.8},{"t":1990.0,"v":-0.5},{"t":1990.1,"v":-1.2},{"t":1990.2,"v":0.0},{"t":1990.3,"v":-0.8},{"t":1990.4,"v":0.6},{"t":1990.5,"v":-0.3},{"t":1990.6,"v":0.9},{"t":1990.7,"v":-0.6},{"t":1990.8,"v":1.3},{"t":1990.9,"v":0.2},{"t":1991.0,"v":0.7},{"t":1991.1,"v":-0.2},{"t":1991.2,"v":1.9},{"t":1991.3,"v":0.4},{"t":1991.4,"v":1.1},{"t":1991.5,"v":0.0},{"t":1991.6,"v":0.8},{"t":1991.7,"v":-0.4},{"t":1991.8,"v":1.5},{"t":1991.9,"v":0.3},{"t":1992.0,"v":0.9},{"t":1992.1,"v":-0.1},{"t":1992.2,"v":0.5},{"t":1992.3,"v":1.0},{"t":1992.4,"v":-0.5},{"t":1992.5,"v":0.2},{"t":1992.6,"v":0.7},{"t":1992.7,"v":-0.3},{"t":1992.8,"v":0.35},{"t":1992.9,"v":-0.8},{"t":1993.0,"v":0.1},{"t":1993.15,"v":0.5},{"t":1993.3,"v":-0.4},{"t":1993.45,"v":0.0},{"t":1993.6,"v":-0.6},{"t":1993.75,"v":0.3},{"t":1993.9,"v":-0.2},{"t":1994.05,"v":0.45},{"t":1994.2,"v":-0.35},{"t":1994.35,"v":0.1},{"t":1994.5,"v":0.6},{"t":1994.65,"v":-0.1},{"t":1994.8,"v":-0.5},{"t":1994.95,"v":0.2},{"t":1995.1,"v":-0.3},{"t":1995.25,"v":0.35},{"t":1995.4,"v":-0.15},{"t":1995.55,"v":0.5},{"t":1995.7,"v":-0.4},{"t":1995.85,"v":0.1},{"t":1996.0,"v":-0.2},{"t":1996.15,"v":0.3},{"t":1996.3,"v":-0.35},{"t":1996.45,"v":0.05},{"t":1996.6,"v":0.4},{"t":1996.75,"v":-0.25},{"t":1996.9,"v":0.15},{"t":1997.05,"v":-0.45},{"t":1997.2,"v":0.2},{"t":1997.35,"v":-0.1},{"t":1997.5,"v":0.3},{"t":1997.65,"v":-0.3},{"t":1997.8,"v":0.1},{"t":1997.95,"v":-0.6},{"t":1998.1,"v":0.25},{"t":1998.25,"v":-0.2},{"t":1998.4,"v":-0.9},{"t":1998.5,"v":0.2},{"t":1998.6,"v":-0.5},{"t":1998.7,"v":-1.2},{"t":1998.8,"v":0.4},{"t":1998.9,"v":-0.3},{"t":1999.0,"v":0.7},{"t":1999.1,"v":-0.8},{"t":1999.2,"v":0.1},{"t":1999.3,"v":-1.4},{"t":1999.4,"v":-0.4},{"t":1999.5,"v":0.5},{"t":1999.6,"v":-1.0},{"t":1999.7,"v":0.0},{"t":1999.8,"v":0.9},{"t":1999.9,"v":-0.6},{"t":2000.0,"v":-1.6},{"t":2000.1,"v":0.3},{"t":2000.2,"v":-0.3},{"t":2000.3,"v":-0.9},{"t":2000.4,"v":0.6},{"t":2000.5,"v":-1.3},{"t":2000.6,"v":0.1},{"t":2000.7,"v":-0.5},{"t":2000.8,"v":1.1},{"t":2000.9,"v":-0.2},{"t":2001.0,"v":-1.1},{"t":2001.1,"v":0.4},{"t":2001.2,"v":-0.7},{"t":2001.3,"v":-1.5},{"t":2001.4,"v":0.2},{"t":2001.5,"v":-0.4},{"t":2001.6,"v":1.3},{"t":2001.7,"v":-1.0},{"t":2001.8,"v":0.0},{"t":2001.9,"v":0.6},{"t":2002.0,"v":-0.3},{"t":2002.1,"v":1.6},{"t":2002.2,"v":0.3},{"t":2002.3,"v":-0.5},{"t":2002.4,"v":0.8},{"t":2002.5,"v":0.1},{"t":2002.6,"v":-0.2},{"t":2002.7,"v":0.9},{"t":2002.8,"v":0.4},{"t":2002.9,"v":-0.3},{"t":2003.0,"v":0.6},{"t":2003.1,"v":0.2},{"t":2003.2,"v":0.75},{"t":2003.3,"v":0.0},{"t":2003.4,"v":0.5},{"t":2003.5,"v":0.3},{"t":2003.6,"v":-0.2},{"t":2003.7,"v":0.6},{"t":2003.8,"v":0.15},{"t":2003.9,"v":0.4},{"t":2004.0,"v":-0.1},{"t":2004.15,"v":0.3},{"t":2004.3,"v":0.05},{"t":2004.45,"v":0.5},{"t":2004.6,"v":-0.2},{"t":2004.75,"v":0.2},{"t":2004.9,"v":0.0},{"t":2005.05,"v":0.35},{"t":2005.2,"v":-0.15},{"t":2005.35,"v":0.1},{"t":2005.5,"v":-0.4},{"t":2005.65,"v":0.2},{"t":2005.8,"v":-0.1},{"t":2005.95,"v":0.15},{"t":2006.1,"v":-0.3},{"t":2006.25,"v":0.05},{"t":2006.4,"v":-0.2},{"t":2006.55,"v":0.1},{"t":2006.7,"v":-0.35},{"t":2006.85,"v":-0.05},{"t":2007.0,"v":-0.2},{"t":2007.15,"v":0.05},{"t":2007.3,"v":-0.25},{"t":2007.45,"v":-0.1},{"t":2007.6,"v":-0.3},{"t":2007.75,"v":0.0},{"t":2007.9,"v":-0.2},{"t":2008.05,"v":-0.05},{"t":2008.2,"v":-0.25},{"t":2008.35,"v":-0.1},{"t":2008.5,"v":-0.3},{"t":2008.65,"v":-0.15},{"t":2008.8,"v":0.0},{"t":2008.95,"v":-0.2},{"t":2009.1,"v":-0.35},{"t":2009.25,"v":-0.1},{"t":2009.4,"v":-0.25},{"t":2009.55,"v":-0.05},{"t":2009.7,"v":-0.3},{"t":2009.85,"v":-0.15},{"t":2010.0,"v":0.0},{"t":2010.15,"v":-0.25},{"t":2010.3,"v":-0.1},{"t":2010.45,"v":-0.35},{"t":2010.6,"v":0.05},{"t":2010.75,"v":-0.2},{"t":2010.9,"v":-0.4},{"t":2011.05,"v":0.1},{"t":2011.2,"v":-0.3},{"t":2011.35,"v":-0.7},{"t":2011.5,"v":0.15},{"t":2011.65,"v":-0.2},{"t":2011.8,"v":0.3},{"t":2011.95,"v":-0.1},{"t":2012.1,"v":0.2},{"t":2012.25,"v":-0.3},{"t":2012.4,"v":0.35},{"t":2012.55,"v":0.0},{"t":2012.7,"v":0.5},{"t":2012.85,"v":-0.15},{"t":2013.0,"v":0.25},{"t":2013.15,"v":0.1},{"t":2013.3,"v":0.6},{"t":2013.45,"v":-0.1},{"t":2013.6,"v":0.3},{"t":2013.75,"v":0.75},{"t":2013.9,"v":0.0},{"t":2014.05,"v":0.45},{"t":2014.2,"v":0.2},{"t":2014.35,"v":0.8},{"t":2014.5,"v":-0.05},{"t":2014.65,"v":0.5},{"t":2014.8,"v":0.3},{"t":2014.95,"v":0.9},{"t":2015.1,"v":0.1},{"t":2015.25,"v":0.4},{"t":2015.4,"v":-0.2},{"t":2015.55,"v":0.3},{"t":2015.7,"v":0.0},{"t":2015.85,"v":0.2},{"t":2016.0,"v":-0.3},{"t":2016.15,"v":0.1},{"t":2016.3,"v":-0.15},{"t":2016.45,"v":-0.4},{"t":2016.6,"v":0.05},{"t":2016.75,"v":-0.25},{"t":2016.9,"v":-0.1},{"t":2017.05,"v":-0.35},{"t":2017.2,"v":0.0},{"t":2017.35,"v":-0.2},{"t":2017.5,"v":-0.45},{"t":2017.65,"v":-0.1},{"t":2017.8,"v":-0.3},{"t":2017.95,"v":-0.5},{"t":2018.1,"v":-0.2},{"t":2018.25,"v":-0.35},{"t":2018.4,"v":-0.15},{"t":2018.55,"v":-0.45},{"t":2018.7,"v":-0.25},
{"t":1978.05,"v":-0.4},{"t":1978.3,"v":-0.25},{"t":1978.55,"v":-0.5},{"t":1978.8,"v":-0.3},{"t":1979.05,"v":-0.45},{"t":1979.3,"v":-0.2},{"t":1979.55,"v":-0.55},{"t":1979.8,"v":-0.35},{"t":1980.05,"v":0.3},{"t":1980.3,"v":0.65},{"t":1980.55,"v":0.45},{"t":1980.8,"v":0.2},{"t":1981.05,"v":0.5},{"t":1981.3,"v":0.7},{"t":1981.55,"v":0.35},{"t":1981.8,"v":0.55},{"t":1982.05,"v":0.25},{"t":1982.3,"v":0.45},{"t":1982.55,"v":0.15},{"t":1982.8,"v":0.35},{"t":1983.05,"v":0.4},{"t":1983.3,"v":0.2},{"t":1983.55,"v":0.45},{"t":1983.8,"v":0.1},{"t":1984.05,"v":0.15},{"t":1984.3,"v":-0.05},{"t":1984.55,"v":0.1},{"t":1984.8,"v":0.05},{"t":1985.05,"v":-0.1},{"t":1985.3,"v":0.1},{"t":1985.55,"v":0.0},{"t":1985.8,"v":-0.1},{"t":1986.05,"v":0.05},{"t":1986.3,"v":-0.05},{"t":1986.55,"v":0.1},{"t":1986.8,"v":-0.15},{"t":1987.05,"v":0.0},{"t":1987.3,"v":0.1},{"t":1987.55,"v":-0.1},{"t":1987.8,"v":0.05},{"t":1988.05,"v":-0.2},{"t":1988.3,"v":-0.05},{"t":1988.55,"v":-0.25},{"t":1988.8,"v":0.05},{"t":1989.05,"v":-0.3},{"t":1989.3,"v":-0.5},{"t":1989.55,"v":-0.2},{"t":1989.8,"v":-0.45},{"t":1990.05,"v":-0.25},{"t":1990.3,"v":-0.6},{"t":1990.55,"v":0.1},{"t":1990.8,"v":0.3},{"t":1991.05,"v":0.2},{"t":1991.3,"v":0.6},{"t":1991.55,"v":0.35},{"t":1991.8,"v":0.7},{"t":1992.05,"v":0.4},{"t":1992.3,"v":0.15},{"t":1992.55,"v":0.3},{"t":1992.8,"v":0.0},{"t":1993.05,"v":-0.1},{"t":1993.3,"v":0.1},{"t":1993.55,"v":-0.25},{"t":1993.8,"v":-0.05},{"t":1994.05,"v":0.0},{"t":1994.3,"v":-0.2},{"t":1994.55,"v":0.2},{"t":1994.8,"v":-0.1},{"t":1995.05,"v":0.05},{"t":1995.3,"v":-0.2},{"t":1995.55,"v":0.15},{"t":1995.8,"v":0.0},{"t":1996.05,"v":-0.15},{"t":1996.3,"v":0.1},{"t":1996.55,"v":-0.05},{"t":1996.8,"v":0.05},{"t":1997.05,"v":-0.15},{"t":1997.3,"v":0.05},{"t":1997.55,"v":-0.1},{"t":1997.8,"v":0.0},{"t":1998.05,"v":-0.2},{"t":1998.3,"v":0.05},{"t":1998.55,"v":-0.4},{"t":1998.8,"v":-0.1},{"t":1999.05,"v":-0.3},{"t":1999.3,"v":0.0},{"t":1999.55,"v":-0.55},{"t":1999.8,"v":-0.2},{"t":2000.05,"v":0.1},{"t":2000.3,"v":-0.5},{"t":2000.55,"v":-0.15},{"t":2000.8,"v":-0.3},{"t":2001.05,"v":0.15},{"t":2001.3,"v":-0.4},{"t":2001.55,"v":-0.65},{"t":2001.8,"v":-0.2},{"t":2002.05,"v":0.2},{"t":2002.3,"v":0.4},{"t":2002.55,"v":-0.05},{"t":2002.8,"v":0.25},{"t":2003.05,"v":0.45},{"t":2003.3,"v":0.3},{"t":2003.55,"v":0.15},{"t":2003.8,"v":0.35},{"t":2004.05,"v":0.1},{"t":2004.3,"v":0.2},{"t":2004.55,"v":0.0},{"t":2004.8,"v":0.1},{"t":2005.05,"v":-0.05},{"t":2005.3,"v":0.1},{"t":2005.55,"v":-0.1},{"t":2005.8,"v":0.05},{"t":2006.05,"v":-0.1},{"t":2006.3,"v":-0.15},{"t":2006.55,"v":0.0},{"t":2006.8,"v":-0.1},{"t":2007.05,"v":-0.15},{"t":2007.3,"v":-0.05},{"t":2007.55,"v":-0.2},{"t":2007.8,"v":-0.1},{"t":2008.05,"v":-0.15},{"t":2008.3,"v":-0.05},{"t":2008.55,"v":-0.2},{"t":2008.8,"v":-0.1},{"t":2009.05,"v":-0.15},{"t":2009.3,"v":-0.2},{"t":2009.55,"v":-0.1},{"t":2009.8,"v":-0.2},{"t":2010.05,"v":-0.1},{"t":2010.3,"v":-0.2},{"t":2010.55,"v":-0.15},{"t":2010.8,"v":-0.25},{"t":2011.05,"v":-0.15},{"t":2011.3,"v":-0.35},{"t":2011.55,"v":-0.05},{"t":2011.8,"v":0.05},{"t":2012.05,"v":-0.05},{"t":2012.3,"v":0.1},{"t":2012.55,"v":0.15},{"t":2012.8,"v":0.0},{"t":2013.05,"v":0.15},{"t":2013.3,"v":0.25},{"t":2013.55,"v":0.05},{"t":2013.8,"v":0.3},{"t":2014.05,"v":0.1},{"t":2014.3,"v":0.35},{"t":2014.55,"v":0.2},{"t":2014.8,"v":0.4},{"t":2015.05,"v":0.25},{"t":2015.3,"v":0.1},{"t":2015.55,"v":0.15},{"t":2015.8,"v":-0.05},{"t":2016.05,"v":0.0},{"t":2016.3,"v":-0.2},{"t":2016.55,"v":-0.1},{"t":2016.8,"v":-0.2},{"t":2017.05,"v":-0.15},{"t":2017.3,"v":-0.3},{"t":2017.55,"v":-0.2},{"t":2017.8,"v":-0.25},{"t":2018.05,"v":-0.35},{"t":2018.3,"v":-0.2},{"t":2018.55,"v":-0.3},
{"t":1978.17,"v":-0.06},{"t":1978.42,"v":-0.46},{"t":1978.67,"v":-0.18},{"t":1978.92,"v":-0.58},{"t":1979.17,"v":-0.04},{"t":1979.42,"v":-0.48},{"t":1979.67,"v":-0.24},{"t":1979.92,"v":-0.64},{"t":1980.17,"v":0.65},{"t":1980.42,"v":0.15},{"t":1980.67,"v":0.5},{"t":1980.92,"v":0.0},{"t":1981.17,"v":0.9},{"t":1981.42,"v":0.35},{"t":1981.67,"v":0.65},{"t":1981.92,"v":0.15},{"t":1982.17,"v":0.65},{"t":1982.42,"v":0.15},{"t":1982.67,"v":0.5},{"t":1982.92,"v":0.0},{"t":1983.17,"v":0.73},{"t":1983.42,"v":0.18},{"t":1983.67,"v":0.48},{"t":1983.92,"v":-0.02},{"t":1984.17,"v":0.22},{"t":1984.42,"v":-0.08},{"t":1984.67,"v":0.13},{"t":1984.92,"v":-0.17},{"t":1985.17,"v":0.29},{"t":1985.42,"v":-0.04},{"t":1985.67,"v":0.14},{"t":1985.92,"v":-0.16},{"t":1986.17,"v":0.18},{"t":1986.42,"v":-0.12},{"t":1986.67,"v":0.09},{"t":1986.92,"v":-0.21},{"t":1987.17,"v":0.24},{"t":1987.42,"v":-0.09},{"t":1987.67,"v":0.09},{"t":1987.92,"v":-0.21},{"t":1988.17,"v":0.08},{"t":1988.42,"v":-0.22},{"t":1988.67,"v":-0.01},{"t":1988.92,"v":-0.31},{"t":1989.17,"v":0.48},{"t":1989.42,"v":-0.35},{"t":1989.67,"v":0.1},{"t":1989.92,"v":-0.65},{"t":1990.17,"v":0.3},{"t":1990.42,"v":-0.45},{"t":1990.67,"v":0.08},{"t":1990.92,"v":-0.68},{"t":1991.17,"v":0.98},{"t":1991.42,"v":0.15},{"t":1991.67,"v":0.6},{"t":1991.92,"v":-0.15},{"t":1992.17,"v":0.75},{"t":1992.42,"v":0.0},{"t":1992.67,"v":0.53},{"t":1992.92,"v":-0.23},{"t":1993.17,"v":0.26},{"t":1993.42,"v":-0.18},{"t":1993.67,"v":0.06},{"t":1993.92,"v":-0.34},{"t":1994.17,"v":0.24},{"t":1994.42,"v":-0.16},{"t":1994.67,"v":0.12},{"t":1994.92,"v":-0.28},{"t":1995.17,"v":0.31},{"t":1995.42,"v":-0.13},{"t":1995.67,"v":0.11},{"t":1995.92,"v":-0.29},{"t":1996.17,"v":0.19},{"t":1996.42,"v":-0.21},{"t":1996.67,"v":0.07},{"t":1996.92,"v":-0.33},{"t":1997.17,"v":0.33},{"t":1997.42,"v":-0.11},{"t":1997.67,"v":0.13},{"t":1997.92,"v":-0.27},{"t":1998.17,"v":0.3},{"t":1998.42,"v":-0.45},{"t":1998.67,"v":0.08},{"t":1998.92,"v":-0.68},{"t":1999.17,"v":0.43},{"t":1999.42,"v":-0.4},{"t":1999.67,"v":0.05},{"t":1999.92,"v":-0.7},{"t":2000.17,"v":0.2},{"t":2000.42,"v":-0.55},{"t":2000.67,"v":-0.02},{"t":2000.92,"v":-0.78},{"t":2001.17,"v":0.38},{"t":2001.42,"v":-0.45},{"t":2001.67,"v":0.0},{"t":2001.92,"v":-0.75},{"t":2002.17,"v":0.5},{"t":2002.42,"v":-0.25},{"t":2002.67,"v":0.28},{"t":2002.92,"v":-0.48},{"t":2003.17,"v":0.61},{"t":2003.42,"v":0.17},{"t":2003.67,"v":0.41},{"t":2003.92,"v":0.01},{"t":2004.17,"v":0.29},{"t":2004.42,"v":-0.11},{"t":2004.67,"v":0.17},{"t":2004.92,"v":-0.23},{"t":2005.17,"v":0.23},{"t":2005.42,"v":-0.05},{"t":2005.67,"v":0.1},{"t":2005.92,"v":-0.15},{"t":2006.17,"v":0.09},{"t":2006.42,"v":-0.16},{"t":2006.67,"v":0.02},{"t":2006.92,"v":-0.24},{"t":2007.17,"v":0.11},{"t":2007.42,"v":-0.17},{"t":2007.67,"v":-0.02},{"t":2007.92,"v":-0.27},{"t":2008.17,"v":0.05},{"t":2008.42,"v":-0.2},{"t":2008.67,"v":-0.02},{"t":2008.92,"v":-0.28},{"t":2009.17,"v":0.1},{"t":2009.42,"v":-0.18},{"t":2009.67,"v":-0.03},{"t":2009.92,"v":-0.28},{"t":2010.17,"v":0.0},{"t":2010.42,"v":-0.25},{"t":2010.67,"v":-0.07},{"t":2010.92,"v":-0.33},{"t":2011.17,"v":0.03},{"t":2011.42,"v":-0.25},{"t":2011.67,"v":-0.1},{"t":2011.92,"v":-0.35},{"t":2012.17,"v":0.26},{"t":2012.42,"v":-0.14},{"t":2012.67,"v":0.14},{"t":2012.92,"v":-0.26},{"t":2013.17,"v":0.46},{"t":2013.42,"v":0.02},{"t":2013.67,"v":0.26},{"t":2013.92,"v":-0.14},{"t":2014.17,"v":0.36},{"t":2014.42,"v":-0.04},{"t":2014.67,"v":0.24},{"t":2014.92,"v":-0.16},{"t":2015.17,"v":0.46},{"t":2015.42,"v":0.02},{"t":2015.67,"v":0.26},{"t":2015.92,"v":-0.14},{"t":2016.17,"v":0.08},{"t":2016.42,"v":-0.22},{"t":2016.67,"v":-0.01},{"t":2016.92,"v":-0.31},{"t":2017.17,"v":0.09},{"t":2017.42,"v":-0.24},{"t":2017.67,"v":-0.06},{"t":2017.92,"v":-0.36},{"t":2018.17,"v":-0.12},{"t":2018.42,"v":-0.42},{"t":2018.67,"v":-0.21}],
"cyanBot":[{"t":1978.86,"v":-0.35},{"t":1979.57,"v":-0.4},{"t":1979.93,"v":-0.5},{"t":1980.29,"v":0.31},{"t":1980.64,"v":0.57},{"t":1981.0,"v":0.31},{"t":1981.21,"v":0.42},{"t":1981.71,"v":0.57},{"t":1982.14,"v":0.37},{"t":1982.64,"v":0.26},{"t":1983.14,"v":0.26},{"t":1983.57,"v":0.31},{"t":1984.07,"v":0.06},{"t":1984.57,"v":0.0},{"t":1985.0,"v":0.06},{"t":1985.5,"v":-0.02},{"t":1986.0,"v":-0.05},{"t":1986.71,"v":0.06},{"t":1987.14,"v":-0.1},{"t":1987.64,"v":0.0},{"t":1988.36,"v":-0.15},{"t":1989.07,"v":-0.05},{"t":1989.43,"v":-0.4},{"t":1989.79,"v":-0.1},{"t":1990.14,"v":-0.4},{"t":1990.5,"v":0.0},{"t":1991.0,"v":0.11},{"t":1991.36,"v":0.52},{"t":1991.71,"v":0.22},{"t":1992.14,"v":0.46},{"t":1992.64,"v":0.11},{"t":1993.14,"v":-0.05},{"t":1993.57,"v":-0.2},{"t":1994.07,"v":-0.1},{"t":1994.57,"v":0.15},{"t":1994.79,"v":-0.1},{"t":1995.29,"v":-0.15},{"t":1995.86,"v":0.11},{"t":1996.43,"v":-0.1},{"t":1997.07,"v":0.0},{"t":1997.64,"v":-0.07},{"t":1998.21,"v":-0.1},{"t":1998.57,"v":-0.35},{"t":1999.07,"v":-0.1},{"t":1999.57,"v":-0.46},{"t":1999.93,"v":-0.05},{"t":2000.36,"v":-0.46},{"t":2000.86,"v":-0.05},{"t":2001.21,"v":-0.3},{"t":2001.57,"v":-0.54},{"t":2001.93,"v":-0.1},{"t":2002.29,"v":0.26},{"t":2002.64,"v":-0.15},{"t":2003.0,"v":0.34},{"t":2003.5,"v":0.23},{"t":2003.93,"v":0.15},{"t":2004.29,"v":0.06},{"t":2004.79,"v":-0.02},{"t":2005.29,"v":0.03},{"t":2005.71,"v":-0.05},{"t":2006.21,"v":-0.07},{"t":2006.71,"v":-0.05},{"t":2007.14,"v":-0.15},{"t":2007.79,"v":-0.1},{"t":2008.57,"v":-0.1},{"t":2009.57,"v":-0.15},{"t":2010.5,"v":-0.15},{"t":2011.07,"v":-0.2},{"t":2011.36,"v":-0.3},{"t":2011.57,"v":-0.1},{"t":2012.14,"v":0.0},{"t":2012.64,"v":0.06},{"t":2013.36,"v":0.11},{"t":2013.86,"v":0.14},{"t":2014.21,"v":0.03},{"t":2014.57,"v":0.15},{"t":2014.93,"v":0.23},{"t":2015.29,"v":0.15},{"t":2015.71,"v":0.0},{"t":2016.21,"v":-0.1},{"t":2016.71,"v":-0.15},{"t":2017.14,"v":-0.17},{"t":2017.64,"v":-0.2},{"t":2018.14,"v":-0.23},{"t":2018.5,"v":-0.38}],
"trend":[{"t":1978.0,"v":0.06},{"t":2019.3,"v":-0.13}],
"hist":[{"n":2,"v":-2.0},{"n":3,"v":-1.6},{"n":5,"v":-1.33},{"n":11,"v":-1.02},{"n":34,"v":-0.82},{"n":51,"v":-0.71},{"n":68,"v":-0.61},{"n":108,"v":-0.51},{"n":164,"v":-0.4},{"n":277,"v":-0.3},{"n":447,"v":-0.23},{"n":635,"v":-0.19},{"n":787,"v":-0.15},{"n":816,"v":-0.1},{"n":787,"v":-0.06},{"n":674,"v":0.0},{"n":544,"v":0.07},{"n":408,"v":0.14},{"n":277,"v":0.21},{"n":181,"v":0.29},{"n":108,"v":0.38},{"n":79,"v":0.49},{"n":62,"v":0.62},{"n":34,"v":0.68},{"n":11,"v":1.08},{"n":4,"v":1.23},{"n":3,"v":1.6},{"n":2,"v":2.0}],
"cycleLines":[{"t":1979.95},{"t":2002.75},{"t":2017.6}],
"cycles":[{"t":1981.3,"c":"21"},{"t":1991.43,"c":"22"},{"t":2002.43,"c":"23"},{"t":2013.93,"c":"24"}]
},
"vconcat":[
{
 "width":587,"height":388,
 "resolve":{"axis":{"x":"independent","y":"independent"}},
 "layer":[
  {"data":{"name":"tsiRed"},"mark":{"type":"square","size":8,"color":"#ff2200","opacity":1,"clip":true},
   "encoding":{"x":{"field":"t","type":"quantitative","scale":{"domain":[1978,2020],"nice":false,"zero":false},"axis":{"values":[1980,1990,2000,2010],"labels":false,"tickSize":-10,"title":null}},
               "y":{"field":"v","type":"quantitative","scale":{"domain":[1358,1363],"nice":false,"zero":false},"axis":{"values":[1358,1359,1360,1361,1362,1363],"format":"d","tickSize":-10,"labelPadding":18,"labelFlush":true,"title":"TSI (W/m²)","titlePadding":15}}}},
  {"data":{"name":"tsiBlack"},"mark":{"type":"square","size":8,"color":"black","opacity":1,"clip":true},
   "encoding":{"x":{"field":"t","type":"quantitative","scale":{"domain":[1978,2020],"nice":false,"zero":false},"axis":{"values":[1978,1979,1981,1982,1983,1984,1985,1986,1987,1988,1989,1991,1992,1993,1994,1995,1996,1997,1998,1999,2001,2002,2003,2004,2005,2006,2007,2008,2009,2011,2012,2013,2014,2015,2016,2017,2018,2019],"labels":false,"tickSize":-5,"title":null}},
               "y":{"field":"v","type":"quantitative","scale":{"domain":[1358,1363],"nice":false,"zero":false},"axis":{"values":[1358.1,1358.2,1358.3,1358.4,1358.5,1358.6,1358.7,1358.8,1358.9,1359.1,1359.2,1359.3,1359.4,1359.5,1359.6,1359.7,1359.8,1359.9,1360.1,1360.2,1360.3,1360.4,1360.5,1360.6,1360.7,1360.8,1360.9,1361.1,1361.2,1361.3,1361.4,1361.5,1361.6,1361.7,1361.8,1361.9,1362.1,1362.2,1362.3,1362.4,1362.5,1362.6,1362.7,1362.8,1362.9],"labels":false,"tickSize":-5,"title":null}}}},
  {"data":{"name":"blackLine"},"mark":{"type":"line","color":"black","strokeWidth":4.5},
   "encoding":{"x":{"field":"t","type":"quantitative","scale":{"domain":[1978,2020],"nice":false,"zero":false},"axis":{"orient":"top","values":[1980,1990,2000,2010],"labels":false,"tickSize":-10,"title":null}},
               "y":{"field":"v","type":"quantitative","scale":{"domain":[1358,1363],"nice":false,"zero":false},"axis":{"orient":"right","values":[1358,1359,1360,1361,1362,1363],"labels":false,"tickSize":-10,"title":null}}}},
  {"data":{"name":"cyanTop"},"mark":{"type":"line","color":"#1eb4f0","strokeWidth":6,"strokeDash":[12,4]},
   "encoding":{"x":{"field":"t","type":"quantitative","scale":{"domain":[1978,2020],"nice":false,"zero":false},"axis":{"orient":"top","values":[1978,1979,1981,1982,1983,1984,1985,1986,1987,1988,1989,1991,1992,1993,1994,1995,1996,1997,1998,1999,2001,2002,2003,2004,2005,2006,2007,2008,2009,2011,2012,2013,2014,2015,2016,2017,2018,2019],"labels":false,"tickSize":-5,"title":null}},
               "y":{"field":"v","type":"quantitative","scale":{"domain":[1358,1363],"nice":false,"zero":false},"axis":{"orient":"right","values":[1358.1,1358.2,1358.3,1358.4,1358.5,1358.6,1358.7,1358.8,1358.9,1359.1,1359.2,1359.3,1359.4,1359.5,1359.6,1359.7,1359.8,1359.9,1360.1,1360.2,1360.3,1360.4,1360.5,1360.6,1360.7,1360.8,1360.9,1361.1,1361.2,1361.3,1361.4,1361.5,1361.6,1361.7,1361.8,1361.9,1362.1,1362.2,1362.3,1362.4,1362.5,1362.6,1362.7,1362.8,1362.9],"labels":false,"tickSize":-5,"title":null}}}},
  {"data":{"name":"cycleLines"},"mark":{"type":"rule","color":"#5c0f9e","strokeWidth":4,"strokeDash":[20,10]},
   "encoding":{"x":{"field":"t","type":"quantitative","scale":{"domain":[1978,2020],"nice":false,"zero":false},"axis":null}}},
  {"data":{"name":"cycles"},"mark":{"type":"text","baseline":"middle","align":"center"},
   "encoding":{"x":{"field":"t","type":"quantitative","scale":{"domain":[1978,2020],"nice":false,"zero":false},"axis":null},"y":{"datum":1358.68,"type":"quantitative","scale":{"domain":[1358,1363],"nice":false,"zero":false},"axis":null},"text":{"field":"c"}}},
  {"data":{"values":[{"lab":"MD1"}]},"mark":{"type":"text","font":"Liberation Serif","fontSize":37,"baseline":"middle","align":"center"},
   "encoding":{"x":{"datum":1985.29,"type":"quantitative","scale":{"domain":[1978,2020],"nice":false,"zero":false},"axis":null},"y":{"datum":1362.57,"type":"quantitative","scale":{"domain":[1358,1363],"nice":false,"zero":false},"axis":null},"text":{"field":"lab"}}},
  {"data":{"values":[{"lab":"Meudon"}]},"mark":{"type":"text","font":"DejaVu Sans","fontSize":40,"baseline":"alphabetic","align":"center"},
   "encoding":{"x":{"datum":1997.89,"type":"quantitative","scale":{"domain":[1978,2020],"nice":false,"zero":false},"axis":null},"y":{"datum":1363.245,"type":"quantitative","scale":{"domain":[1358,1363],"nice":false,"zero":false},"axis":null},"text":{"field":"lab"}}}
 ]
},
{
 "spacing":0,
 "bounds":"flush",
 "hconcat":[
 {
  "width":587,"height":258,
  "resolve":{"axis":{"x":"independent","y":"independent"}},
  "layer":[
   {"data":{"name":"dRed"},"mark":{"type":"square","size":8,"color":"#ff2200","opacity":1,"clip":true},
    "encoding":{"x":{"field":"t","type":"quantitative","scale":{"domain":[1978,2020],"nice":false,"zero":false},"axis":{"values":[1980,1990,2000,2010],"tickSize":-10,"labelPadding":27,"format":"d","title":"Year","titleFontSize":30,"titlePadding":4,"titleX":267,"labelFlush":false}},
                "y":{"field":"v","type":"quantitative","scale":{"domain":[-2,2],"nice":false,"zero":false},"axis":{"values":[-2,-1,0,1,2],"tickSize":-10,"labelPadding":18,"labelFlush":true,"title":"Δ TSI (W/m²)","titlePadding":15}}}},
   {"data":{"name":"trend"},"mark":{"type":"line","color":"#1c1cf0","strokeWidth":3.5,"strokeDash":[20,10]},
    "encoding":{"x":{"field":"t","type":"quantitative","scale":{"domain":[1978,2020],"nice":false,"zero":false},"axis":{"values":[1978,1979,1981,1982,1983,1984,1985,1986,1987,1988,1989,1991,1992,1993,1994,1995,1996,1997,1998,1999,2001,2002,2003,2004,2005,2006,2007,2008,2009,2011,2012,2013,2014,2015,2016,2017,2018,2019],"labels":false,"tickSize":-5,"title":null}},
                "y":{"field":"v","type":"quantitative","scale":{"domain":[-2,2],"nice":false,"zero":false},"axis":{"values":[-1.9,-1.8,-1.7,-1.6,-1.5,-1.4,-1.3,-1.2,-1.1,-0.9,-0.8,-0.7,-0.6,-0.5,-0.4,-0.3,-0.2,-0.1,0.1,0.2,0.3,0.4,0.5,0.6,0.7,0.8,0.9,1.1,1.2,1.3,1.4,1.5,1.6,1.7,1.8,1.9],"labels":false,"tickSize":-5,"title":null}}}},
   {"mark":{"type":"rule","color":"black","strokeWidth":2.5,"strokeDash":[3,5]},"encoding":{"y":{"datum":0,"type":"quantitative","scale":{"domain":[-2,2],"nice":false,"zero":false},"axis":{"orient":"right","values":[-1.9,-1.8,-1.7,-1.6,-1.5,-1.4,-1.3,-1.2,-1.1,-0.9,-0.8,-0.7,-0.6,-0.5,-0.4,-0.3,-0.2,-0.1,0.1,0.2,0.3,0.4,0.5,0.6,0.7,0.8,0.9,1.1,1.2,1.3,1.4,1.5,1.6,1.7,1.8,1.9],"labels":false,"tickSize":-5,"title":null}}}},
   {"data":{"name":"cyanBot"},"mark":{"type":"line","color":"#1eb4f0","strokeWidth":5},
    "encoding":{"x":{"field":"t","type":"quantitative","scale":{"domain":[1978,2020],"nice":false,"zero":false},"axis":{"orient":"top","values":[1980,1990,2000,2010],"labels":false,"tickSize":-10,"title":null}},
                "y":{"field":"v","type":"quantitative","scale":{"domain":[-2,2],"nice":false,"zero":false},"axis":{"orient":"right","values":[-2,-1,0,1,2],"labels":false,"tickSize":-10,"title":null}}}},
   {"data":{"name":"cycleLines"},"mark":{"type":"rule","color":"#5c0f9e","strokeWidth":4,"strokeDash":[20,10]},
    "encoding":{"x":{"field":"t","type":"quantitative","scale":{"domain":[1978,2020],"nice":false,"zero":false},"axis":{"orient":"top","values":[1978,1979,1981,1982,1983,1984,1985,1986,1987,1988,1989,1991,1992,1993,1994,1995,1996,1997,1998,1999,2001,2002,2003,2004,2005,2006,2007,2008,2009,2011,2012,2013,2014,2015,2016,2017,2018,2019],"labels":false,"tickSize":-5,"title":null}}}},
   {"data":{"name":"cycles"},"mark":{"type":"text","baseline":"middle","align":"center"},
    "encoding":{"x":{"field":"t","type":"quantitative","scale":{"domain":[1978,2020],"nice":false,"zero":false},"axis":null},"y":{"datum":-1.62,"type":"quantitative","scale":{"domain":[-2,2],"nice":false,"zero":false},"axis":null},"text":{"field":"c"}}},
   {"data":{"values":[{"lab":"MD1"}]},"mark":{"type":"text","font":"Liberation Serif","fontSize":37,"baseline":"middle","align":"center"},
    "encoding":{"x":{"datum":1985.29,"type":"quantitative","scale":{"domain":[1978,2020],"nice":false,"zero":false},"axis":null},"y":{"datum":1.26,"type":"quantitative","scale":{"domain":[-2,2],"nice":false,"zero":false},"axis":null},"text":{"field":"lab"}}}
  ]
 },
 {
  "width":151,"height":258,
  "resolve":{"axis":{"x":"independent","y":"independent"}},
  "layer":[
   {"mark":{"type":"rule","color":"black","strokeWidth":2.5,"strokeDash":[3,5]},"encoding":{"y":{"datum":0,"type":"quantitative","scale":{"domain":[-2,2],"nice":false,"zero":false},"axis":{"orient":"right","values":[-1.9,-1.8,-1.7,-1.6,-1.5,-1.4,-1.3,-1.2,-1.1,-0.9,-0.8,-0.7,-0.6,-0.5,-0.4,-0.3,-0.2,-0.1,0.1,0.2,0.3,0.4,0.5,0.6,0.7,0.8,0.9,1.1,1.2,1.3,1.4,1.5,1.6,1.7,1.8,1.9],"labels":false,"tickSize":-5,"title":null}}}},
   {"data":{"name":"hist"},"mark":{"type":"line","color":"#ff2200","strokeWidth":2.5,"clip":true},
    "encoding":{"x":{"field":"n","type":"quantitative","scale":{"domain":[0,850],"nice":false,"zero":false},"axis":{"values":[0,500],"tickSize":-10,"labelPadding":27,"title":"N","titleFontSize":30,"titlePadding":4,"labelFlush":false}},
                "y":{"field":"v","type":"quantitative","scale":{"domain":[-2,2],"nice":false,"zero":false},"axis":{"orient":"right","values":[-2,-1,0,1,2],"tickSize":-10,"labelPadding":20,"labelFlush":true,"title":null}},
                "order":{"field":"v"}}},
   {"data":{"name":"hist"},"mark":{"type":"line","opacity":0},
    "encoding":{"x":{"field":"n","type":"quantitative","scale":{"domain":[0,850],"nice":false,"zero":false},"axis":{"values":[100,200,300,400,600,700,800],"labels":false,"tickSize":-5,"title":null}},
                "y":{"field":"v","type":"quantitative","scale":{"domain":[-2,2],"nice":false,"zero":false},"axis":null}}},
   {"data":{"name":"hist"},"mark":{"type":"line","opacity":0},
    "encoding":{"x":{"field":"n","type":"quantitative","scale":{"domain":[0,850],"nice":false,"zero":false},"axis":{"orient":"top","values":[100,200,300,400,500,600,700,800],"labels":false,"tickSize":-5,"title":null}},
                "y":{"field":"v","type":"quantitative","scale":{"domain":[-2,2],"nice":false,"zero":false},"axis":null}}}
  ]
 }
 ]
}
],
"spacing":20,
"bounds":"flush"
}
